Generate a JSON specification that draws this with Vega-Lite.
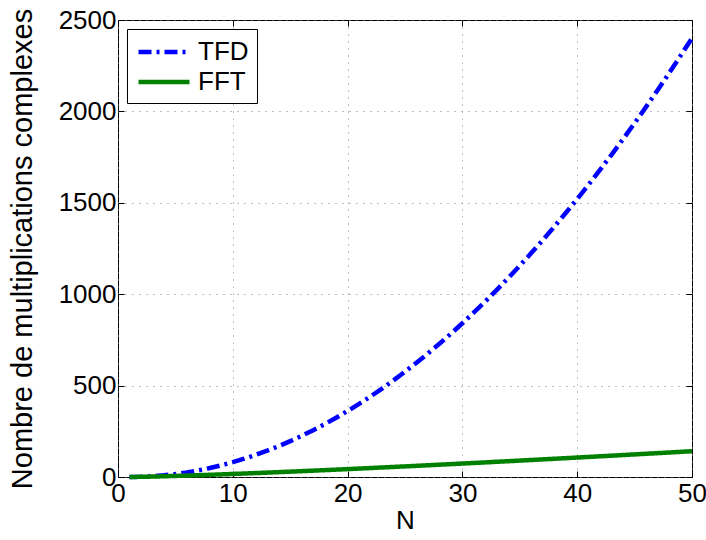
{
  "$schema": "https://vega.github.io/schema/vega-lite/v6.json",
  "width": 574,
  "height": 457,
  "autosize": {"type": "none"},
  "padding": {"left": 118, "top": 20, "right": 14, "bottom": 63},
  "background": "white",
  "config": {
    "font": "Liberation Sans",
    "view": {"stroke": "black", "strokeWidth": 1},
    "axis": {
      "labelFont": "Liberation Sans",
      "titleFont": "Liberation Sans",
      "labelFontSize": 26,
      "titleFontSize": 26,
      "titleFontWeight": "normal",
      "labelColor": "black",
      "titleColor": "black",
      "domainColor": "black",
      "tickColor": "black",
      "tickSize": -6,
      "labelFlush": false,
      "labelOverlap": false
    }
  },
  "data": {
    "values": [
      {"N": 1, "TFD": 0, "FFT": 0},
      {"N": 2, "TFD": 1, "FFT": 1},
      {"N": 3, "TFD": 4, "FFT": 2.377},
      {"N": 4, "TFD": 9, "FFT": 4},
      {"N": 5, "TFD": 16, "FFT": 5.805},
      {"N": 6, "TFD": 25, "FFT": 7.755},
      {"N": 7, "TFD": 36, "FFT": 9.826},
      {"N": 8, "TFD": 49, "FFT": 12},
      {"N": 9, "TFD": 64, "FFT": 14.265},
      {"N": 10, "TFD": 81, "FFT": 16.61},
      {"N": 11, "TFD": 100, "FFT": 19.027},
      {"N": 12, "TFD": 121, "FFT": 21.51},
      {"N": 13, "TFD": 144, "FFT": 24.053},
      {"N": 14, "TFD": 169, "FFT": 26.651},
      {"N": 15, "TFD": 196, "FFT": 29.302},
      {"N": 16, "TFD": 225, "FFT": 32},
      {"N": 17, "TFD": 256, "FFT": 34.743},
      {"N": 18, "TFD": 289, "FFT": 37.529},
      {"N": 19, "TFD": 324, "FFT": 40.355},
      {"N": 20, "TFD": 361, "FFT": 43.219},
      {"N": 21, "TFD": 400, "FFT": 46.119},
      {"N": 22, "TFD": 441, "FFT": 49.054},
      {"N": 23, "TFD": 484, "FFT": 52.021},
      {"N": 24, "TFD": 529, "FFT": 55.02},
      {"N": 25, "TFD": 576, "FFT": 58.048},
      {"N": 26, "TFD": 625, "FFT": 61.106},
      {"N": 27, "TFD": 676, "FFT": 64.191},
      {"N": 28, "TFD": 729, "FFT": 67.303},
      {"N": 29, "TFD": 784, "FFT": 70.441},
      {"N": 30, "TFD": 841, "FFT": 73.603},
      {"N": 31, "TFD": 900, "FFT": 76.79},
      {"N": 32, "TFD": 961, "FFT": 80},
      {"N": 33, "TFD": 1024, "FFT": 83.232},
      {"N": 34, "TFD": 1089, "FFT": 86.487},
      {"N": 35, "TFD": 1156, "FFT": 89.762},
      {"N": 36, "TFD": 1225, "FFT": 93.059},
      {"N": 37, "TFD": 1296, "FFT": 96.375},
      {"N": 38, "TFD": 1369, "FFT": 99.711},
      {"N": 39, "TFD": 1444, "FFT": 103.065},
      {"N": 40, "TFD": 1521, "FFT": 106.439},
      {"N": 41, "TFD": 1600, "FFT": 109.83},
      {"N": 42, "TFD": 1681, "FFT": 113.239},
      {"N": 43, "TFD": 1764, "FFT": 116.665},
      {"N": 44, "TFD": 1849, "FFT": 120.108},
      {"N": 45, "TFD": 1936, "FFT": 123.567},
      {"N": 46, "TFD": 2025, "FFT": 127.042},
      {"N": 47, "TFD": 2116, "FFT": 130.533},
      {"N": 48, "TFD": 2209, "FFT": 134.039},
      {"N": 49, "TFD": 2304, "FFT": 137.56},
      {"N": 50, "TFD": 2401, "FFT": 141.097}
    ]
  },
  "transform": [{"fold": ["TFD", "FFT"], "as": ["serie", "valeur"]}],
  "resolve": {"axis": {"x": "independent", "y": "independent"}},
  "layer": [
    {
      "mark": {"type": "point", "opacity": 0},
      "encoding": {
        "x": {"field": "N", "type": "quantitative", "scale": {"domain": [0, 50], "nice": false, "zero": false},
              "axis": {"orient": "top", "values": [0, 10, 20, 30, 40, 50], "labels": false, "title": null, "grid": false, "domain": false}},
        "y": {"field": "valeur", "type": "quantitative", "scale": {"domain": [0, 2500], "nice": false},
              "axis": {"orient": "right", "values": [0, 500, 1000, 1500, 2000, 2500], "labels": false, "title": null, "grid": false, "domain": false}}
      }
    },
    {
      "mark": {"type": "line", "strokeWidth": 4.5, "strokeCap": "butt"},
      "encoding": {
        "x": {"field": "N", "type": "quantitative", "scale": {"domain": [0, 50], "nice": false, "zero": false},
              "axis": {"orient": "bottom", "values": [0, 10, 20, 30, 40, 50], "format": "d", "title": "N",
                       "labelPadding": 9, "titlePadding": 1, "domain": false,
                       "grid": true, "gridColor": "#808080", "gridDash": [1, 6], "gridWidth": 1}},
        "y": {"field": "valeur", "type": "quantitative", "scale": {"domain": [0, 2500], "nice": false},
              "axis": {"orient": "left", "values": [0, 500, 1000, 1500, 2000, 2500], "format": "d",
                       "title": "Nombre de multiplications complexes", "titleFontSize": 29, "labelPadding": 8, "titlePadding": 21, "domain": false,
                       "grid": true, "gridColor": "#808080", "gridDash": [1, 6], "gridWidth": 1}},
        "color": {"field": "serie", "type": "nominal",
                  "scale": {"domain": ["TFD", "FFT"], "range": ["#0000ff", "#008000"]},
                  "legend": {"orient": "none", "legendX": 9, "legendY": 9, "title": null, "symbolType": "M-2,0H2",
                             "symbolSize": 650, "symbolStrokeWidth": 4.5, "symbolOffset": 14, "labelFontSize": 26, "labelFont": "Liberation Sans",
                             "labelColor": "black", "fillColor": "white", "strokeColor": "black", "padding": 8,
                             "rowPadding": 2, "labelOffset": 19, "cornerRadius": 0}},
        "strokeDash": {"field": "serie", "type": "nominal",
                       "scale": {"domain": ["TFD", "FFT"], "range": [[13, 5, 3, 5], [1, 0]]}}
      }
    }
  ]
}
